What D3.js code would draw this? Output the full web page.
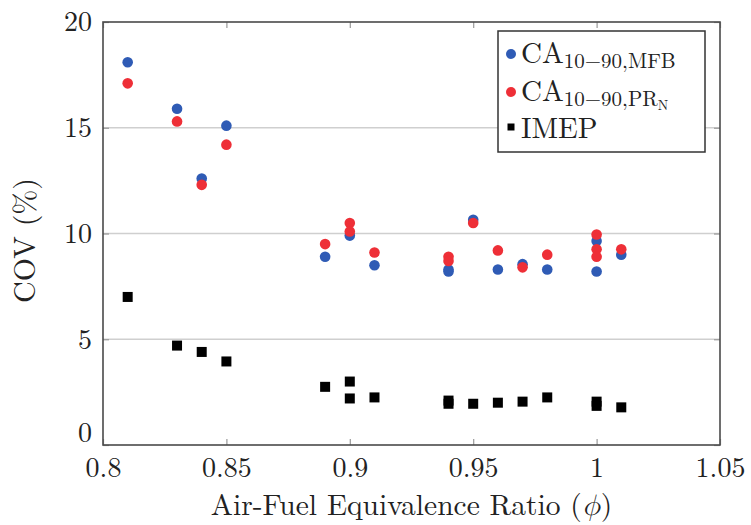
<!DOCTYPE html>
<html>
<head>
<meta charset="utf-8">
<script src="https://cdn.jsdelivr.net/npm/d3@7"></script>
<style>
  html, body { margin: 0; padding: 0; background: #fff; }
  svg { display: block; }
</style>
</head>
<body>
<svg id="chart" width="751" height="525"></svg>
<script>
// ---- data ----
const phiMFB  = [0.81, 0.83, 0.84, 0.85, 0.89, 0.90, 0.91, 0.94, 0.94, 0.95, 0.96, 0.97, 0.98, 1.00, 1.00, 1.01];
const covMFB  = [18.1, 15.9, 12.6, 15.1, 8.9, 9.9, 8.5, 8.3, 8.2, 10.65, 8.3, 8.55, 8.3, 9.65, 8.2, 9.0];
const phiPRN  = [0.81, 0.83, 0.84, 0.85, 0.89, 0.90, 0.90, 0.91, 0.94, 0.94, 0.95, 0.96, 0.97, 0.98, 1.00, 1.00, 1.00, 1.01];
const covPRN  = [17.1, 15.3, 12.3, 14.2, 9.5, 10.5, 10.1, 9.1, 8.9, 8.7, 10.5, 9.2, 8.4, 9.0, 9.95, 9.25, 8.9, 9.25];
const phiIMEP = [0.81, 0.83, 0.84, 0.85, 0.89, 0.90, 0.90, 0.91, 0.94, 0.94, 0.95, 0.96, 0.97, 0.98, 1.00, 1.00, 1.01];
const covIMEP = [7.0, 4.7, 4.4, 3.95, 2.75, 3.0, 2.2, 2.25, 2.1, 1.95, 1.95, 2.0, 2.05, 2.25, 2.05, 1.85, 1.78];
const xTicks = [0.8, 0.85, 0.9, 0.95, 1, 1.05];
const yTicks = [0, 5, 10, 15, 20];
const xLabel = "Air-Fuel Equivalence Ratio (";
const yLabel = "COV (%)";

// ---- layout ----
const FONT = "'Latin Modern Roman', 'Liberation Serif', serif";
const MATH = "'Latin Modern Math', 'Latin Modern Roman', 'DejaVu Serif', serif";
const svg = d3.select("#chart");
const L = 103, R = 720, T = 22, B = 445;
const x = d3.scaleLinear().domain([0.8, 1.05]).range([L, R]);
const y = d3.scaleLinear().domain([0, 20]).range([B, T]);
const blue = "#2f5bb5", red = "#ee2f37";

// gridlines
svg.append("g").selectAll("line").data(yTicks.filter(d => d > 0 && d < 20)).join("line")
  .attr("x1", L).attr("x2", R).attr("y1", d => y(d)).attr("y2", d => y(d))
  .attr("stroke", "#cfcfcf").attr("stroke-width", 1.5);

// axes with inward ticks
const fmtX = d => String(+d.toFixed(2));
const gx = svg.append("g").attr("transform", `translate(0,${B})`)
  .call(d3.axisBottom(x).tickValues(xTicks).tickSize(-6).tickPadding(12).tickFormat(fmtX));
const gxt = svg.append("g").attr("transform", `translate(0,${T})`)
  .call(d3.axisTop(x).tickValues(xTicks).tickSize(-6).tickFormat(""));
const gy = svg.append("g").attr("transform", `translate(${L},0)`)
  .call(d3.axisLeft(y).tickValues(yTicks).tickSize(-6).tickPadding(11));
const gyr = svg.append("g").attr("transform", `translate(${R},0)`)
  .call(d3.axisRight(y).tickValues(yTicks).tickSize(-6).tickFormat(""));
[gx, gxt, gy, gyr].forEach(g => {
  g.attr("font-family", null).attr("font-size", null);
  g.select(".domain").remove();
  g.selectAll(".tick line").attr("stroke", "#999").attr("stroke-width", 1.2);
  g.selectAll(".tick text").style("font-family", FONT).style("font-size", "28px").attr("fill", "#222");
});
gx.selectAll(".tick text").attr("dy", "0.71em");
gy.selectAll(".tick text").filter(d => d === 0).attr("dy", "-0.12em");

// frame
svg.append("rect").attr("x", L).attr("y", T).attr("width", R - L).attr("height", B - T)
  .attr("fill", "none").attr("stroke", "#4a4a4a").attr("stroke-width", 1.6);

// markers
svg.append("g").selectAll("circle").data(d3.zip(phiMFB, covMFB)).join("circle")
  .attr("cx", d => x(d[0])).attr("cy", d => y(d[1])).attr("r", 5.3).attr("fill", blue);
svg.append("g").selectAll("circle").data(d3.zip(phiPRN, covPRN)).join("circle")
  .attr("cx", d => x(d[0])).attr("cy", d => y(d[1])).attr("r", 5.3).attr("fill", red);
const sq = 10;
svg.append("g").selectAll("rect").data(d3.zip(phiIMEP, covIMEP)).join("rect")
  .attr("x", d => x(d[0]) - sq / 2).attr("y", d => y(d[1]) - sq / 2)
  .attr("width", sq).attr("height", sq).attr("fill", "#000");

// axis titles
const xt = svg.append("text").attr("x", (L + R) / 2).attr("y", 515).attr("text-anchor", "middle")
  .style("font-family", FONT).style("font-size", "29.5px").attr("fill", "#222");
xt.append("tspan").text(xLabel);
xt.append("tspan").style("font-family", MATH).style("font-style", "italic").text("\u03D5");
xt.append("tspan").text(")");
svg.append("text").attr("transform", `translate(35,${(T + B) / 2 + 7}) rotate(-90)`)
  .attr("text-anchor", "middle").style("font-family", FONT).style("font-size", "30px")
  .attr("fill", "#222").text(yLabel);

// legend
const lg = svg.append("g");
lg.append("rect").attr("x", 498).attr("y", 31).attr("width", 207).attr("height", 121)
  .attr("fill", "#fff").attr("stroke", "#333").attr("stroke-width", 1.5);
lg.append("circle").attr("cx", 511).attr("cy", 54).attr("r", 5).attr("fill", blue);
lg.append("circle").attr("cx", 511).attr("cy", 92).attr("r", 5).attr("fill", red);
lg.append("rect").attr("x", 507.5).attr("y", 123.5).attr("width", 7).attr("height", 7).attr("fill", "#000");

function legendText(yb) {
  return lg.append("text").attr("x", 521).attr("y", yb)
    .style("font-family", FONT).style("font-size", "29px").attr("fill", "#222");
}
const t1 = legendText(63);
t1.append("tspan").text("CA");
t1.append("tspan").style("font-size", "21px").attr("dy", 5).text("10\u221290,MFB");

const t2 = legendText(101);
t2.append("tspan").text("CA");
t2.append("tspan").style("font-size", "21px").attr("dy", 5).text("10\u221290,PR");
t2.append("tspan").style("font-size", "14px").attr("dy", 4).text("N");

legendText(138).text("IMEP");
</script>
</body>
</html>
